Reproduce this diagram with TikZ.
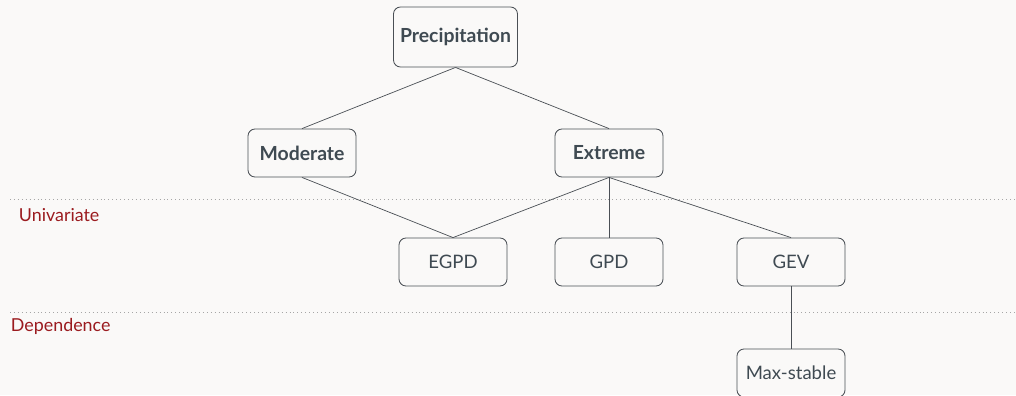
\documentclass[tikz,border=0pt]{standalone}
\usepackage{fontspec}
\setmainfont{Lato}
\definecolor{bgcol}{HTML}{FAF9F8}
\definecolor{txtcol}{HTML}{3F4A52}
\definecolor{linecol}{HTML}{4A4F55}
\definecolor{labcol}{HTML}{9B1B1F}
\begin{document}
\begin{tikzpicture}[x=0.025cm,y=-0.025cm,
    box/.style={draw=linecol,line width=0.6pt,rounded corners=5pt,text=txtcol,
      minimum width=2.7cm,minimum height=1.2cm,font=\fontsize{13.2}{16}\selectfont},
    topbox/.style={box,font=\fontsize{13.8}{16}\selectfont\bfseries},
    lvl/.style={text=labcol,anchor=west,font=\fontsize{12.7}{15}\selectfont},
    sep/.style={draw=gray!70,line width=0.6pt,dash pattern=on 0.6pt off 2.2pt}]
  \fill[bgcol] (0,0) rectangle (1016,395);
  \useasboundingbox (0,0) rectangle (1016,395);
  % separators
  \draw[sep] (10,199) -- (1016,199);
  \draw[sep] (10,312) -- (1016,312);
  \node[lvl] (uni) at (14,215) {Univariate};
  \node[lvl] (dep) at (6,326) {Dependence};
  % tree
  \node[topbox,minimum width=3.1cm,minimum height=1.5cm] (prec) at (455.5,37) {Precipitation};
  \node[topbox] (mod) at (302,153) {Moderate};
  \node[topbox] (ext) at (609,153) {Extreme};
  \node[box] (egpd) at (453,262) {EGPD};
  \node[box] (gpd) at (609,262) {GPD};
  \node[box] (gev) at (791,262) {GEV};
  \node[box] (maxst) at (791,373) {Max-stable};
  \begin{scope}[draw=linecol,line width=0.5pt]
    \draw (prec.south) to (mod.north);
    \draw (prec.south) to (ext.north);
    \draw (mod.south) to (egpd.north);
    \draw (ext.south) to (egpd.north);
    \draw (ext.south) to (gpd.north);
    \draw (ext.south) to (gev.north);
    \draw (gev.south) to (maxst.north);
  \end{scope}
\end{tikzpicture}
\end{document}
